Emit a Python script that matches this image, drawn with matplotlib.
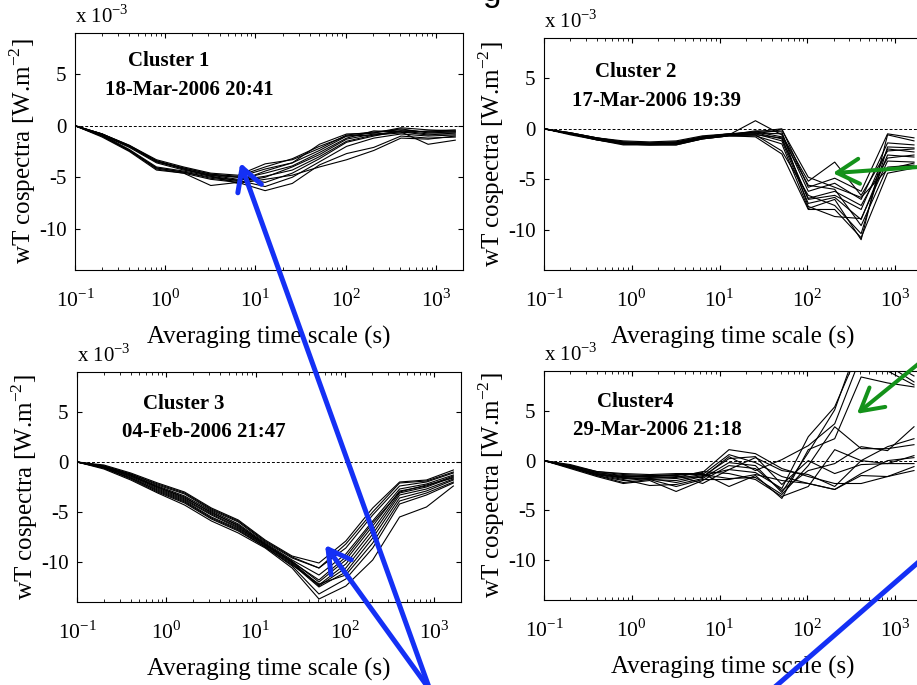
import matplotlib
matplotlib.use('Agg')
import matplotlib.pyplot as plt
from matplotlib.patches import ConnectionPatch

plt.rcParams['font.family'] = 'Liberation Serif'
plt.rcParams['mathtext.fontset'] = 'custom'
plt.rcParams['mathtext.rm'] = 'Liberation Serif'
plt.rcParams['axes.unicode_minus'] = False

# averaging time scales (s): 0.1 s doubled 14 times
scales = [0.1, 0.2, 0.4, 0.8, 1.6, 3.2, 6.4, 12.8, 25.6, 51.2, 102.4, 204.8, 409.6, 819.2, 1638.4]

# wT cospectra, units of 1e-3 W.m-2, one list per ogive
cluster1 = [
    [0, -0.8, -1.9, -3.3, -4.0, -4.6, -4.8, -3.7, -3.3, -2.2, -0.9, -0.6, -0.4, -0.6, -0.5],
    [0, -0.8, -1.9, -3.4, -4.1, -4.7, -5.0, -4.2, -3.6, -1.8, -0.8, -0.7, -0.3, -0.7, -0.6],
    [0, -0.9, -2.0, -3.4, -4.2, -4.8, -5.2, -4.6, -3.9, -2.6, -1.2, -0.5, -0.6, -0.9, -0.7],
    [0, -0.8, -2.0, -3.5, -4.2, -4.9, -5.3, -4.9, -4.3, -3.0, -1.5, -0.9, -0.7, -0.5, -0.4],
    [0, -0.9, -2.1, -3.6, -4.3, -4.8, -5.0, -5.5, -4.6, -3.2, -1.6, -1.0, -0.5, -0.8, -0.8],
    [0, -1.0, -2.4, -4.1, -4.5, -5.0, -5.3, -5.9, -5.0, -3.5, -2.0, -1.2, -0.8, -1.0, -0.9],
    [0, -1.0, -2.4, -4.2, -4.6, -5.2, -5.5, -6.3, -5.6, -3.8, -2.7, -2.1, -1.0, -1.2, -1.1],
    [0, -1.1, -2.5, -4.3, -4.6, -5.8, -5.5, -5.0, -4.0, -2.8, -1.3, -0.8, -0.6, -1.8, -1.4],
    [0, -1.0, -2.4, -4.1, -4.5, -5.1, -5.4, -4.4, -3.6, -2.4, -1.0, -0.9, -0.5, -0.6, -0.6],
    [0, -0.9, -2.3, -4.0, -4.4, -4.9, -5.6, -5.2, -4.8, -4.0, -3.3, -2.4, -1.2, -1.3, -1.0],
    [0, -0.8, -2.0, -3.5, -4.1, -4.7, -4.9, -4.0, -3.2, -2.0, -1.0, -0.7, -0.2, -0.4, -0.5],
]
cluster2 = [
    [0, -0.5, -1.0, -1.4, -1.5, -1.4, -0.9, -0.6, 0.8, -0.6, -5.2, -3.3, -6.6, -2.2, -2.0],
    [0, -0.5, -1.0, -1.5, -1.5, -1.5, -0.9, -0.6, -0.3, 0.0, -5.8, -4.9, -6.2, -0.5, -0.9],
    [0, -0.4, -0.9, -1.3, -1.4, -1.3, -0.8, -0.5, -0.4, -0.5, -6.2, -5.4, -7.0, -1.4, -1.6],
    [0, -0.5, -1.1, -1.5, -1.6, -1.5, -1.0, -0.7, -0.6, -0.9, -7.0, -6.6, -8.0, -2.0, -2.3],
    [0, -0.5, -1.0, -1.4, -1.5, -1.4, -0.9, -0.6, -0.5, -1.2, -7.4, -6.8, -9.0, -2.6, -2.8],
    [0, -0.6, -1.1, -1.6, -1.6, -1.6, -1.0, -0.7, -0.7, -1.5, -7.9, -7.0, -11.0, -0.6, -1.2],
    [0, -0.5, -1.0, -1.4, -1.5, -1.4, -0.8, -0.6, -0.2, -0.3, -7.7, -8.7, -8.9, -3.2, -3.3],
    [0, -0.4, -0.9, -1.3, -1.4, -1.3, -0.8, -0.5, -0.3, -0.8, -5.6, -6.0, -9.6, -3.8, -3.6],
    [0, -0.5, -1.0, -1.5, -1.5, -1.5, -0.9, -0.6, -0.6, -2.2, -6.6, -7.6, -10.4, -1.8, -1.9],
    [0, -0.5, -1.1, -1.5, -1.6, -1.6, -1.0, -0.7, -0.8, -2.5, -8.0, -8.0, -10.8, -4.4, -3.9],
    [0, -0.4, -0.9, -1.2, -1.3, -1.2, -0.7, -0.5, -0.4, -1.0, -6.9, -6.2, -7.6, -2.9, -2.6],
    [0, -0.5, -1.0, -1.4, -1.5, -1.4, -0.9, -0.6, -0.5, -0.1, -4.8, -5.8, -6.8, -4.0, -3.4],
]
cluster3 = [
    [0, -0.3, -1.1, -2.1, -3.0, -4.6, -5.8, -7.8, -9.4, -10.1, -7.9, -4.6, -2.0, -1.8, -0.8],
    [0, -0.4, -1.2, -2.3, -3.2, -4.8, -6.0, -8.0, -9.6, -10.6, -8.6, -5.3, -2.4, -2.0, -1.1],
    [0, -0.4, -1.3, -2.4, -3.4, -4.9, -6.2, -8.1, -9.8, -11.3, -9.2, -5.9, -2.7, -2.2, -1.3],
    [0, -0.5, -1.4, -2.5, -3.5, -5.1, -6.3, -8.2, -9.9, -12.0, -9.8, -6.4, -2.9, -2.4, -1.4],
    [0, -0.5, -1.4, -2.6, -3.7, -5.2, -6.5, -8.3, -10.0, -12.3, -10.2, -6.8, -3.1, -2.5, -1.5],
    [0, -0.5, -1.5, -2.7, -3.8, -5.3, -6.6, -8.3, -10.1, -12.4, -10.6, -7.2, -3.3, -2.7, -1.7],
    [0, -0.6, -1.6, -2.8, -3.9, -5.5, -6.7, -8.4, -10.2, -12.5, -11.0, -7.6, -3.6, -2.9, -1.8],
    [0, -0.6, -1.6, -2.9, -4.0, -5.6, -6.8, -8.5, -10.3, -12.2, -11.3, -8.1, -3.9, -3.1, -2.0],
    [0, -0.6, -1.7, -3.0, -4.1, -5.7, -6.9, -8.5, -10.4, -13.2, -11.7, -8.6, -4.2, -3.3, -2.1],
    [0, -0.7, -1.8, -3.1, -4.3, -5.9, -7.1, -8.6, -10.6, -13.7, -12.4, -9.8, -5.5, -4.5, -2.4],
    [0, -0.4, -1.2, -2.2, -3.1, -4.7, -5.9, -7.9, -9.5, -10.6, -8.2, -5.0, -2.1, -1.9, -1.0],
    [0, -0.5, -1.3, -2.5, -3.6, -5.0, -6.4, -8.2, -10.0, -11.8, -9.5, -6.1, -3.0, -2.3, -1.6],
]
cluster4 = [
    [0, -0.5, -1.2, -1.5, -1.6, -1.5, -1.2, 1.1, 0.7, -0.8, -1.6, -2.3, -2.3, -1.6, -0.6],
    [0, -0.6, -1.3, -1.8, -1.7, -1.8, -1.4, 0.6, -0.2, -1.6, -2.3, -2.9, -1.3, 0.0, 0.3],
    [0, -0.7, -1.5, -2.0, -1.8, -2.2, -1.6, 0.2, 0.4, -2.4, 0.0, -1.3, -0.4, -0.3, 0.5],
    [0, -0.8, -1.6, -2.3, -2.0, -3.1, -2.0, -0.5, -0.8, -3.0, -1.0, -0.3, 1.4, 1.0, 3.4],
    [0, -0.6, -1.4, -1.6, -1.6, -1.7, -1.1, -1.3, -1.9, -3.6, -2.6, 1.1, 0.0, 1.4, 2.2],
    [0, -0.5, -1.1, -1.3, -1.4, -1.3, -1.3, -2.6, -1.5, -3.8, 1.1, 2.2, 8.4, 7.8, 7.4],
    [0, -0.6, -1.3, -1.7, -1.9, -2.0, -1.5, -0.9, -1.2, -2.8, 2.4, 5.4, 11.5, 9.6, 7.9],
    [0, -0.7, -1.4, -1.9, -2.5, -2.4, -1.8, -0.2, -0.5, -3.2, 0.8, 5.1, 12.5, 10.0, 8.5],
    [0, -0.6, -1.4, -1.7, -1.8, -1.6, -1.7, 0.4, -1.0, 0.1, 1.5, 3.7, 10.5, 9.0, 7.6],
    [0, -0.5, -1.2, -1.6, -1.5, -1.4, -1.4, -1.8, -1.7, -3.4, -0.5, 3.4, 1.2, 1.2, 1.6],
    [0, -0.4, -1.1, -1.4, -1.5, -1.5, -2.3, -0.9, 0.3, -1.0, -1.4, -2.6, 0.0, -0.3, -0.3],
    [0, -0.7, -1.5, -2.2, -1.9, -2.6, -1.9, -1.9, -1.4, -2.0, -2.3, -2.9, -1.5, -1.6, -1.0],
]

titles = ['Cluster 1', 'Cluster 2', 'Cluster 3', 'Cluster4']
dates = ['18-Mar-2006 20:41', '17-Mar-2006 19:39', '04-Feb-2006 21:47', '29-Mar-2006 21:18']
clusters = [cluster1, cluster2, cluster3, cluster4]

W, H = 917, 685
fig = plt.figure(figsize=(W / 100, H / 100), dpi=100)

# panel boxes in pixels: left, top, width, height (right column runs off the slide)
boxes = [(75, 33, 388, 237), (544, 38, 377.5, 232), (77, 372, 384, 230), (544, 371, 377.5, 229)]
# text anchors (axes fraction): title x, title y, date x, date y
txt_pos = [(0.137, 0.861, 0.077, 0.738), (0.135, 0.832, 0.074, 0.707),
           (0.172, 0.839, 0.117, 0.717), (0.140, 0.843, 0.077, 0.720)]

axes = []
for i in range(4):
    l, t, w, h = boxes[i]
    ax = fig.add_axes([l / W, 1 - (t + h) / H, w / W, h / H])
    for y in clusters[i]:
        ax.plot(scales, y, color='k', lw=0.8)
    ax.axhline(0, color='k', ls='--', lw=0.7, dashes=(3, 2))
    ax.set_xscale('log')
    ax.set_xlim(0.1, 10 ** 3.3)
    ax.set_ylim(-14, 9)
    ax.set_xticks([0.1, 1, 10, 100, 1000])
    ax.set_xticklabels(['$10^{-1}$', '$10^{0}$', '$10^{1}$', '$10^{2}$', '$10^{3}$'])
    ax.set_yticks([-10, -5, 0, 5])
    ax.set_yticklabels(['-10', '-5', '0', '5'])
    ax.tick_params(which='both', direction='in', top=True, right=True, labelsize=15)
    ax.tick_params(which='major', length=3.5, width=0.8)
    ax.tick_params(which='minor', length=2, width=0.6)
    ax.tick_params(axis='x', pad=14, labelsize=15.5)
    ax.tick_params(axis='y', pad=6)
    ax.set_xlabel('Averaging time scale (s)', fontsize=18, labelpad=10)
    ax.set_ylabel('wT cospectra [W.m$^{-2}$]', fontsize=18, labelpad=1)
    ax.text(0.0, 1.045, 'x 10$^{-3}$', transform=ax.transAxes, fontsize=15, va='baseline')
    tx, ty, dx, dy = txt_pos[i]
    ax.text(tx, ty, titles[i], transform=ax.transAxes, fontsize=15, fontweight='bold', va='baseline')
    ax.text(dx, dy, dates[i], transform=ax.transAxes, fontsize=15, fontweight='bold', va='baseline')
    axes.append(ax)

# piece of the slide heading cut off by the crop
fig.text(492 / W, 1 - 1 / H, 'g', family='Liberation Sans', fontsize=24, ha='center', va='baseline')

# overlay arrows drawn on the slide
blue = '#1430f5'
green = '#14921a'
origin = (430 / W, -5 / H)
arrows = [
    (origin, axes[0], (6.8, -3.6), blue, 3.6),
    (origin, axes[2], (60, -8.3), blue, 3.6),
    ((960 / W, 1 - 164 / H), axes[1], (195, -4.4), green, 2.9),
    ((960 / W, 1 - 330 / H), axes[3], (367, 4.7), green, 2.9),
]
for tail, ax, tip, col, lw in arrows:
    con = ConnectionPatch(xyA=tail, coordsA='figure fraction', xyB=tip, coordsB=ax.transData,
                          arrowstyle='->,head_length=0.8,head_width=0.45', mutation_scale=20,
                          color=col, lw=lw, shrinkA=0, shrinkB=0, zorder=10)
    fig.add_artist(con)

# third blue arrow heads off the right edge
con = ConnectionPatch(xyA=(768 / W, 1 - 693 / H), coordsA='figure fraction',
                      xyB=(960 / W, 1 - 526 / H), coordsB='figure fraction',
                      arrowstyle='-', color=blue, lw=3.6, zorder=10)
fig.add_artist(con)

plt.savefig('out.png', dpi=100)
